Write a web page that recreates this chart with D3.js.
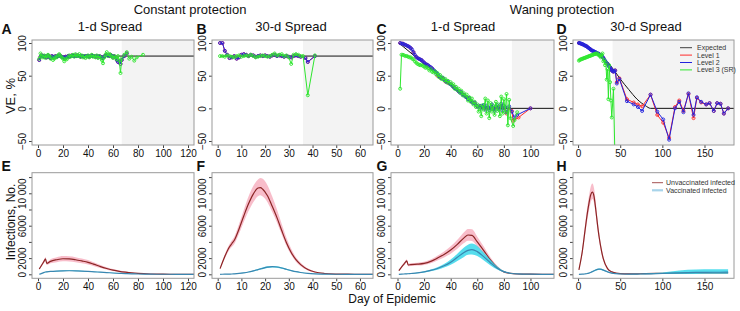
<!DOCTYPE html>
<html><head><meta charset="utf-8">
<script src="https://cdn.jsdelivr.net/npm/d3@7"></script>
<style>body{margin:0;background:#fff}svg{display:block;font-family:"Liberation Sans",Arial,sans-serif}</style>
</head><body><svg id="c" width="740" height="311"></svg>
<script>
// ---------- VE panels (top row): [day, VE%] ----------
const A_expected = [[1,80],[130,80]];
const A_level2 = [[1,74],[2,79],[3,81],[4,80],[5,79],[6,80],[7,78],[8,81],[9,79],[10,77],[11,80],[12,79],[13,78],[14,80],[15,79],[16,80],[17,81],[18,80],[19,79],[20,78],[21,77],[22,79],[23,78],[24,80],[25,79],[26,80],[27,81],[28,80],[29,80],[30,81],[31,80],[32,81],[33,80],[34,79],[35,80],[36,80],[37,79],[38,80],[39,80],[40,80],[41,79],[42,80],[43,81],[44,80],[45,80],[46,79],[47,80],[48,79],[49,80],[50,79],[51,78],[52,77],[53,79],[54,81],[55,82],[56,81],[57,80],[58,82],[59,80],[60,79],[61,80],[62,78],[63,74],[64,71],[65,72],[66,68],[67,74],[69,80],[71,84]];
const A_level1 = A_level2; // Level 1 coincides with Level 2 under constant protection
const A_level3 = [[1,76],[2,84],[3,80],[4,78],[5,81],[6,77],[7,80],[8,82],[9,80],[10,76],[11,78],[12,74],[13,76],[14,79],[15,78],[16,81],[17,83],[18,80],[19,78],[20,76],[21,72],[22,76],[23,75],[24,78],[25,81],[26,79],[27,80],[28,82],[29,79],[30,83],[31,81],[32,80],[33,83],[34,79],[35,81],[36,78],[37,80],[38,77],[39,79],[40,81],[41,78],[42,80],[43,82],[44,79],[45,80],[46,78],[47,81],[48,77],[49,80],[50,78],[51,74],[52,69],[53,78],[54,82],[55,86],[56,80],[57,83],[58,82],[59,79],[60,77],[61,80],[62,78],[63,75],[64,80],[65,73],[66,54],[67,76],[69,82],[71,86],[73,76],[75,79],[77,73],[79,78],[84,82]];

const B_expected = [[1,80],[70,80]];
const B_level2 = [[1,100],[2,100],[3,88],[4,82],[5,77],[6,78],[7,80],[8,76],[9,78],[10,82],[11,83],[12,82],[13,80],[14,82],[15,81],[16,79],[17,80],[18,81],[19,80],[20,81],[21,80],[22,79],[23,81],[24,82],[25,80],[26,81],[27,80],[28,79],[29,80],[30,79],[31,78],[32,80],[33,81],[34,80],[35,79],[37,77],[38,71],[41,80]];
const B_level1 = B_level2;
const B_level3 = [[1,80],[2,80],[3,79],[4,81],[5,80],[6,79],[7,78],[8,80],[9,81],[10,79],[11,80],[12,81],[13,80],[14,82],[15,80],[16,78],[17,79],[18,80],[19,81],[20,80],[21,79],[22,80],[23,82],[24,84],[25,81],[26,82],[27,83],[28,80],[29,81],[30,78],[31,68],[32,82],[33,83],[34,82],[35,80],[36,80],[38,20],[41,81]];

const C_expected = [[1,100],[20,68],[40,35],[60,4],[63,0],[125,0]];
const C_level1 = [[2,100],[4,99],[6,97],[8,95],[10,92],[12,86],[14,79],[16,76],[18,74],[20,70],[22,67],[24,64],[26,61],[28,56],[30,50],[32,47],[34,46],[36,41],[38,39],[40,37],[42,33],[44,30],[46,26],[48,24],[50,20],[52,17],[54,15],[56,10],[58,8],[60,3],[62,3],[64,2],[66,0],[68,1],[70,0],[72,-1],[74,2],[76,0],[78,3],[80,1],[82,-8],[84,0],[86,-4],[87,-19],[91,-14],[100,0]];
const C_level2 = [[2,100],[3,99],[4,99],[5,98],[6,97],[7,96],[8,95],[9,94],[10,92],[11,90],[12,86],[13,82],[14,79],[15,77],[16,76],[17,75],[18,74],[19,72],[20,70],[21,68],[22,67],[23,66],[24,64],[25,63],[26,61],[27,59],[28,57],[29,55],[30,53],[31,50],[32,48],[33,46],[34,47],[35,44],[36,42],[37,40],[38,41],[39,38],[40,37],[41,35],[42,33],[43,31],[44,30],[45,28],[46,26],[47,24],[48,25],[49,21],[50,20],[51,18],[52,17],[53,14],[54,16],[55,12],[56,10],[57,8],[58,9],[59,5],[60,3],[61,2],[62,4],[63,0],[64,3],[65,5],[66,-2],[67,4],[68,1],[69,-3],[70,2],[71,6],[72,0],[73,-4],[74,3],[75,5],[76,-2],[77,2],[78,7],[79,-3],[80,4],[81,2],[82,-6],[84,3],[86,-5],[88,-14],[90,-10],[100,0]];
const C_level3 = [[2,30],[3,82],[4,82],[5,81],[6,80],[7,80],[8,79],[9,78],[10,78],[11,76],[12,75],[13,72],[14,70],[15,68],[16,67],[17,66],[18,67],[19,65],[20,64],[21,62],[22,63],[23,61],[24,58],[25,60],[26,56],[27,55],[28,57],[29,52],[30,54],[31,48],[32,51],[33,45],[34,47],[35,43],[36,45],[37,40],[38,42],[39,38],[40,40],[41,35],[42,37],[43,30],[44,33],[45,28],[46,30],[47,24],[48,27],[49,20],[50,23],[51,18],[52,21],[53,12],[54,17],[55,10],[56,15],[57,6],[58,10],[59,2],[60,6],[61,-5],[62,3],[63,-12],[64,5],[65,-2],[66,15],[67,-8],[68,12],[69,-15],[70,8],[71,-5],[72,4],[73,-10],[74,10],[75,-4],[76,6],[77,-12],[78,18],[79,-8],[80,14],[81,-6],[82,22],[83,-26],[84,13],[85,-15],[87,-27],[88,-18],[90,-6]];

const D_expected = [[0,100],[10,95],[20,87],[30,77],[40,63],[50,45],[60,29],[70,14],[80,4],[86,0],[190,0]];
const D_level1 = [[1,100],[5,98],[10,95],[15,90],[20,86],[25,83],[30,77],[35,68],[40,58],[42,56],[44,58],[46,40],[49,46],[58,14],[66,9],[71,6],[76,3],[86,21],[94,-10],[101,-22],[108,-45],[115,2],[120,12],[125,-4],[131,22],[137,-15],[141,16],[146,9],[152,6],[156,8],[161,-4],[165,8],[169,7],[173,-8],[178,0]];
const D_level2 = [[1,100],[2,100],[3,99],[4,99],[5,98],[6,98],[7,97],[8,96],[9,96],[10,95],[11,94],[12,93],[13,92],[14,91],[15,90],[16,89],[17,88],[18,88],[19,87],[20,86],[21,86],[22,85],[23,84],[24,84],[25,83],[26,82],[27,81],[28,80],[29,79],[30,77],[31,75],[32,73],[33,71],[34,69],[35,68],[36,66],[37,64],[38,62],[39,60],[40,58],[41,57],[42,56],[43,57],[44,58],[46,38],[49,45],[58,11],[66,6],[71,2],[76,-4],[86,21],[94,-5],[101,-17],[108,-48],[115,0],[120,10],[125,-6],[131,23],[137,-10],[141,17],[146,10],[152,6],[156,8],[161,-4],[165,8],[169,7],[173,-8],[178,0]];
const D_level3 = [[1,73],[2,74],[3,75],[4,75],[5,76],[6,76],[7,77],[8,77],[9,78],[10,78],[11,79],[12,79],[13,80],[14,80],[15,81],[16,81],[17,82],[18,82],[19,83],[20,83],[21,84],[22,83],[23,84],[24,82],[25,81],[26,80],[27,78],[28,82],[29,84],[30,72],[31,74],[32,66],[33,70],[34,44],[35,60],[36,14],[37,66],[38,40],[39,12],[40,-14],[42,30],[45,-150]];

const shadeStart = [67, 36, 86, 41];

// ---------- Infection panels (bottom row) ----------
const E_days = [1,3,5,6,7,10,15,20,25,30,35,40,45,50,55,60,65,70,75,80,90,100,110,125];
const E_unvac = [650,1150,1650,1900,1350,1600,1800,1920,1900,1800,1650,1480,1220,950,720,520,370,260,170,110,40,15,5,0];
const E_unvacLo = [550,1000,1450,1650,1150,1350,1500,1600,1580,1500,1370,1220,1000,770,570,400,280,190,120,70,20,5,0,0];
const E_unvacHi = [750,1300,1850,2150,1550,1850,2100,2250,2230,2120,1950,1760,1460,1150,880,650,470,340,230,160,70,30,12,3];
const E_vac = [0,120,230,280,300,350,400,430,440,430,400,360,310,260,210,160,120,85,60,40,15,5,2,0];
const E_vacLo = [0,100,200,245,265,310,355,385,395,385,355,320,270,225,180,135,100,70,48,30,10,3,0,0];
const E_vacHi = [0,140,260,315,335,390,445,475,485,475,445,400,350,295,240,185,140,100,72,50,20,8,4,1];

const F_days = [1,3,5,6,7,9,11,13,15,17,18,19,21,23,25,27,29,31,33,35,38,41,45,50,55,60,66];
const F_unvac = [700,2200,3400,3800,4200,5600,7200,8700,9900,10650,10700,10500,9700,8400,7000,5400,3900,2700,1800,1200,600,280,100,30,10,5,0];
const F_unvacLo = [600,1950,3050,3400,3750,5000,6450,7800,8900,9650,9750,9600,8900,7700,6400,4900,3500,2400,1550,1000,480,210,70,20,5,2,0];
const F_unvacHi = [800,2450,3750,4200,4650,6200,7950,9600,10900,11700,11900,11800,11000,9600,8000,6200,4500,3150,2100,1420,740,360,140,45,15,8,2];
const F_vac = [0,10,30,40,60,110,180,280,420,580,660,740,880,940,900,780,620,460,320,220,110,50,20,5,2,0,0];
const F_vacLo = [0,5,20,30,45,90,150,240,360,510,580,650,780,840,800,690,545,400,275,185,90,38,14,3,0,0,0];
const F_vacHi = [0,15,40,52,75,130,210,320,480,650,740,830,980,1040,1000,870,695,520,365,255,130,62,26,8,4,1,0];

const G_days = [1,3,5,6,7,8,10,15,20,25,30,35,40,45,50,53,56,60,65,70,75,80,85,90,100,110,118];
const G_unvac = [450,900,1300,1500,1650,1150,1200,1250,1350,1600,2000,2450,3000,3700,4500,4850,4800,4000,2900,1750,850,300,110,40,10,2,0];
const G_unvacLo = [380,780,1130,1300,1430,1000,1040,1080,1160,1370,1700,2080,2550,3150,3850,4150,4100,3400,2450,1450,680,220,70,25,5,0,0];
const G_unvacHi = [520,1020,1470,1700,1870,1300,1360,1420,1540,1830,2300,2820,3450,4250,5200,5600,5550,4650,3400,2080,1050,400,160,60,18,5,1];
const G_vac = [0,20,40,50,60,70,100,180,300,480,720,1050,1500,2100,2700,2950,3050,2800,2150,1400,750,330,130,50,10,2,0];
const G_vacLo = [0,10,28,36,44,52,75,140,235,380,570,830,1180,1650,2150,2400,2450,2250,1700,1100,580,250,95,35,6,0,0];
const G_vacHi = [0,30,52,64,76,88,125,220,365,580,870,1270,1820,2550,3300,3650,3800,3500,2650,1750,950,420,170,68,15,4,1];

const H_days = [1,5,8,10,13,15,17,19,21,23,25,28,30,35,40,45,50,60,70,80,100,120,140,160,178];
const H_unvac = [550,2800,5200,6800,8800,9800,10150,9600,8000,6200,4600,2800,1900,700,300,150,80,50,60,80,120,150,170,180,180];
const H_unvacLo = [480,2450,4600,6000,7900,8900,9300,8800,7300,5600,4100,2450,1650,580,240,110,50,25,30,45,70,90,100,110,110];
const H_unvacHi = [620,3150,5800,7600,9700,10800,11200,10600,8900,6900,5150,3150,2200,830,370,200,120,80,95,120,180,220,250,260,260];
const H_vac = [0,10,40,70,150,230,330,430,530,600,640,600,520,300,150,80,40,20,30,50,100,180,230,250,260];
const H_vacLo = [0,5,25,50,115,185,275,360,450,510,550,510,440,240,110,55,25,10,10,15,30,40,50,60,60];
const H_vacHi = [0,15,55,90,185,275,385,500,610,690,730,690,600,360,190,105,60,35,55,95,220,480,580,620,620];

// ---------- tick labels ----------
const xTicksA = [0,20,40,60,80,100,120];
const xTicksB = [0,10,20,30,40,50,60];
const xTicksC = [0,20,40,60,80,100];
const xTicksD = [0,50,100,150];
const veTicks = [-50,0,50,100];
const infTicks = [0,2000,4000,6000,8000,10000,12000];
const infTickLabels = {0:"0",2000:"2000",6000:"6000",10000:"10 000"};
const veLegend = ["Expected","Level 1","Level 2","Level 3 (SR)"];
const infLegend = ["Unvaccinated infected","Vaccinated infected"];

// ---------- drawing ----------
const svg = d3.select("#c");
const defs = svg.append("defs");
const COL = {exp:"#111", l1:"#ff2a2a", l2:"#2222dd", l3:"#2ee62e",
  unvac:"#8b2525", unvacBand:"#f49aae", vac:"#3a86b0", vacBand:"#2cd4e8"};

const cols = [
  {x0:32, x1:194, dom:[-4.8,124.8], ticks:xTicksA},
  {x0:212, x1:373, dom:[-2.4,65.5], ticks:xTicksB},
  {x0:391, x1:554, dom:[-4.9,117.7], ticks:xTicksC},
  {x0:573, x1:734, dom:[-6,185], ticks:xTicksD}];
const rowTop = {y0:40, y1:145, dom:[-56.1,104.6]};
const rowBot = {y0:172.7, y1:278.3, dom:[-494,12543]};

const topData = [
  {exp:A_expected, l1:A_level1, l2:A_level2, l3:A_level3},
  {exp:B_expected, l1:B_level1, l2:B_level2, l3:B_level3},
  {exp:C_expected, l1:C_level1, l2:C_level2, l3:C_level3},
  {exp:D_expected, l1:D_level1, l2:D_level2, l3:D_level3}];
const botData = [
  {d:E_days,u:E_unvac,ul:E_unvacLo,uh:E_unvacHi,v:E_vac,vl:E_vacLo,vh:E_vacHi},
  {d:F_days,u:F_unvac,ul:F_unvacLo,uh:F_unvacHi,v:F_vac,vl:F_vacLo,vh:F_vacHi},
  {d:G_days,u:G_unvac,ul:G_unvacLo,uh:G_unvacHi,v:G_vac,vl:G_vacLo,vh:G_vacHi},
  {d:H_days,u:H_unvac,ul:H_unvacLo,uh:H_unvacHi,v:H_vac,vl:H_vacLo,vh:H_vacHi}];

function frame(i, row, id, yTicks, yFmt){
  const c = cols[i];
  const x = d3.scaleLinear().domain(c.dom).range([c.x0, c.x1]);
  const y = d3.scaleLinear().domain(row.dom).range([row.y1, row.y0]);
  defs.append("clipPath").attr("id", id).append("rect")
    .attr("x", c.x0).attr("y", row.y0).attr("width", c.x1-c.x0).attr("height", row.y1-row.y0);
  const g = svg.append("g");
  const plot = g.append("g").attr("clip-path", `url(#${id})`);
  return {x, y, g, plot, c};
}
function axes(f, row, yTicks, yFmt){
  const {x, y, g, c} = f;
  const ax = g.append("g").attr("transform", `translate(0,${row.y1})`)
    .call(d3.axisBottom(x).tickValues(c.ticks).tickSize(3).tickPadding(2).tickFormat(d3.format("d")));
  ax.select(".domain").remove();
  ax.selectAll("line").attr("stroke", "#444");
  ax.selectAll("text").attr("font-size", 10).attr("fill", "#111")
    .attr("font-family", '"Liberation Sans",Arial,sans-serif');
  const ay = g.append("g").attr("transform", `translate(${c.x0},0)`)
    .call(d3.axisLeft(y).tickValues(yTicks).tickSize(3).tickFormat(yFmt));
  ay.select(".domain").remove();
  ay.selectAll("line").attr("stroke", "#444");
  ay.selectAll("text").attr("font-size", 10).attr("fill", "#111")
    .attr("font-family", '"Liberation Sans",Arial,sans-serif')
    .attr("transform", "rotate(-90)").attr("x", 0).attr("y", -6).attr("dy", 0)
    .attr("text-anchor", "middle");
  g.append("rect").attr("x", c.x0).attr("y", row.y0).attr("width", c.x1-c.x0)
    .attr("height", row.y1-row.y0).attr("fill", "none").attr("stroke", "#9a9a9a").attr("stroke-width", 1);
}

// top row
topData.forEach((td, i) => {
  const f = frame(i, rowTop, "ct"+i);
  const {x, y, plot, c} = f;
  plot.append("rect").attr("x", x(shadeStart[i])).attr("y", rowTop.y0)
    .attr("width", c.x1 - x(shadeStart[i])).attr("height", rowTop.y1-rowTop.y0).attr("fill", "#f3f3f3");
  const line = d3.line().x(d => x(d[0])).y(d => y(d[1]));
  plot.append("path").datum(td.exp).attr("d", i===3 ? line.curve(d3.curveMonotoneX)(td.exp) : line(td.exp))
    .attr("fill", "none").attr("stroke", COL.exp).attr("stroke-width", 1);
  line.curve(d3.curveLinear);
  [["l1",COL.l1],["l2",COL.l2],["l3",COL.l3]].forEach(([k, col]) => {
    plot.append("path").attr("d", line(td[k])).attr("fill", "none").attr("stroke", col).attr("stroke-width", 1);
    plot.selectAll(null).data(td[k]).enter().append("circle")
      .attr("cx", d => x(d[0])).attr("cy", d => y(d[1])).attr("r", 1.5)
      .attr("fill", "none").attr("stroke", col).attr("stroke-width", 0.9);
  });
  axes(f, rowTop, veTicks, d3.format("d"));
});

// bottom row
botData.forEach((bd, i) => {
  const f = frame(i, rowBot, "cb"+i);
  const {x, y, plot} = f;
  const idx = bd.d.map((_, k) => k);
  const band = (lo, hi) => d3.area().curve(d3.curveMonotoneX).x(k => x(bd.d[k])).y0(k => y(lo[k])).y1(k => y(hi[k]));
  const mline = arr => d3.line().curve(d3.curveMonotoneX).x(k => x(bd.d[k])).y(k => y(arr[k]));
  plot.append("path").attr("d", band(bd.ul, bd.uh)(idx)).attr("fill", COL.unvacBand).attr("opacity", 0.65);
  plot.append("path").attr("d", mline(bd.u)(idx)).attr("fill", "none").attr("stroke", COL.unvac).attr("stroke-width", 1.2);
  plot.append("path").attr("d", band(bd.vl, bd.vh)(idx)).attr("fill", COL.vacBand).attr("opacity", 0.8);
  plot.append("path").attr("d", mline(bd.v)(idx)).attr("fill", "none").attr("stroke", COL.vac).attr("stroke-width", 1.2);
  axes(f, rowBot, infTicks, d => infTickLabels[d] || "");
});

// legends
const lgD = svg.append("g").attr("font-size", 7).attr("fill", "#333");
[COL.exp, COL.l1, COL.l2, COL.l3].forEach((col, k) => {
  const yy = 47.7 + k*7.4;
  lgD.append("line").attr("x1", 680).attr("x2", 692).attr("y1", yy).attr("y2", yy)
    .attr("stroke", col).attr("stroke-width", k===0 ? 0.8 : 1);
  lgD.append("text").attr("x", 697).attr("y", yy + 2.4).text(veLegend[k]);
});
const lgH = svg.append("g").attr("font-size", 7).attr("fill", "#333");
[[COL.unvac, 0.8], ["#a8d4ea", 2.2]].forEach(([col, w], k) => {
  const yy = 182.7 + k*7.6;
  lgH.append("line").attr("x1", 652).attr("x2", 663).attr("y1", yy).attr("y2", yy)
    .attr("stroke", col).attr("stroke-width", w);
  lgH.append("text").attr("x", 666).attr("y", yy + 2.4).text(infLegend[k]);
});

// titles
const T = (x, y, s, size, opts={}) => svg.append("text").attr("x", x).attr("y", y).text(s)
  .attr("font-size", size).attr("text-anchor", opts.anchor || "middle")
  .attr("font-weight", opts.bold ? "bold" : null).attr("fill", "#111")
  .attr("transform", opts.rot ? `rotate(-90,${x},${y})` : null);
T(190, 14, "Constant protection", 13);
T(562, 14, "Waning protection", 13);
T(110, 31, "1-d Spread", 13); T(291, 31, "30-d Spread", 13);
T(463, 31, "1-d Spread", 13); T(646, 31, "30-d Spread", 13);
[["A",1.5,34],["B",196.5,34],["C",376.5,34],["D",556.5,34],["E",1.5,170.5],["F",196.5,170.5],["G",376.5,170.5],["H",556.5,170.5]]
  .forEach(([s, x, y]) => T(x, y, s, 14, {anchor:"start", bold:true}));
T(15, 96, "VE, %", 13, {rot:true});
T(15, 222, "Infections, No.", 12, {rot:true});
T(392, 303, "Day of Epidemic", 12);
</script></body></html>
